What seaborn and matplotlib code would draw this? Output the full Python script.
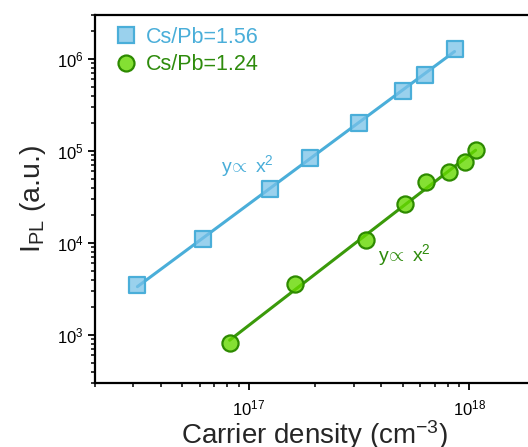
import numpy as np
import pandas as pd
import seaborn as sns
import matplotlib
matplotlib.use("Agg")
import matplotlib.pyplot as plt
from matplotlib.lines import Line2D

# Carrier density (cm^-3) and PL intensity (a.u.) for the two compositions
density_156 = [3.13e16, 6.24e16, 1.25e17, 1.89e17, 3.18e17, 5.02e17, 6.28e17, 8.59e17]
ipl_156 = [3.47e3, 1.10e4, 3.90e4, 8.35e4, 2.01e5, 4.45e5, 6.73e5, 1.29e6]

density_124 = [8.2e16, 1.63e17, 3.39e17, 5.12e17, 6.4e17, 8.11e17, 9.55e17, 1.07e18]
ipl_124 = [8.2e2, 3.53e3, 1.08e4, 2.62e4, 4.64e4, 5.85e4, 7.55e4, 1.03e5]

labels = ["Cs/Pb=1.56", "Cs/Pb=1.24"]
fit_label = r"$\mathregular{y}\!\propto\ \mathregular{x}^{2}$"

sns.set_theme(style="ticks")
plt.rcParams["font.family"] = ["Liberation Sans", "DejaVu Sans"]
plt.rcParams["mathtext.fontset"] = "custom"
plt.rcParams["mathtext.rm"] = "Liberation Sans"
plt.rcParams["mathtext.it"] = "Liberation Sans:italic"

blue_edge = "#4aaed9"
blue_face = (0.47, 0.76, 0.91, 0.75)
blue_text = "#4aaed9"
green_edge = "#2d8a00"
green_face = (0.40, 0.85, 0.0, 0.8)
green_line = "#3a9a0a"
green_text = "#2e8b0c"

fig = plt.figure(figsize=(5.28, 4.47), dpi=100)
ax = fig.add_axes([94.5 / 528, 1 - 383 / 447, (535.5 - 94.5) / 528, (383 - 15) / 447])

df_a = pd.DataFrame({"n": density_156, "I": ipl_156})
df_b = pd.DataFrame({"n": density_124, "I": ipl_124})


def fit_line(df):
    k, b = np.polyfit(np.log10(df["n"]), np.log10(df["I"]), 1)
    xs = np.array([df["n"].min(), df["n"].max()])
    return pd.DataFrame({"n": xs, "I": 10 ** (b + k * np.log10(xs))})


sns.lineplot(data=fit_line(df_a), x="n", y="I", color=blue_edge, lw=2.2, ax=ax, zorder=2)
sns.lineplot(data=fit_line(df_b), x="n", y="I", color=green_line, lw=2.2, ax=ax, zorder=2)

sns.scatterplot(data=df_a, x="n", y="I", marker="s", s=120, color=blue_face,
                edgecolor=blue_edge, linewidth=1.6, ax=ax, zorder=3)
sns.scatterplot(data=df_b, x="n", y="I", marker="o", s=135, color=green_face,
                edgecolor=green_edge, linewidth=1.6, ax=ax, zorder=3)

ax.set_xscale("log")
ax.set_yscale("log")
ax.set_xlim(2e16, 2e18)
ax.set_ylim(3e2, 3e6)

for side in ["top", "right", "left", "bottom"]:
    ax.spines[side].set_linewidth(1.6)
    ax.spines[side].set_color("black")

ax.tick_params(which="major", direction="out", length=5, width=1.3, labelsize=12,
               colors="black", pad=3)
ax.tick_params(axis="x", which="major", pad=6)
ax.tick_params(which="minor", direction="out", length=3, width=1.1, colors="black")
ax.tick_params(top=False, right=False, which="both")

ax.set_xlabel("Carrier density (cm$^{-3}$)", fontsize=20, labelpad=0)
ax.set_ylabel(r"I$_{\mathregular{PL}}$ (a.u.)", fontsize=20.5, labelpad=6)

handles = [
    Line2D([], [], marker="s", ls="none", markersize=11, markerfacecolor=blue_face,
           markeredgecolor=blue_edge, markeredgewidth=1.6),
    Line2D([], [], marker="o", ls="none", markersize=11.5, markerfacecolor=green_face,
           markeredgecolor=green_edge, markeredgewidth=1.6),
]
leg = ax.legend(handles, labels, loc="upper left", bbox_to_anchor=(0.012, 1.009),
                frameon=False, fontsize=15.5, handlelength=1.0, handletextpad=0.45,
                labelspacing=0.3, borderaxespad=0.3)
for txt, c in zip(leg.get_texts(), [blue_text, green_text]):
    txt.set_color(c)

ax.text(7.5e16, 5.9e4, fit_label, color=blue_text, fontsize=14)
ax.text(3.85e17, 6.4e3, fit_label, color=green_text, fontsize=14)

fig.savefig("out.png", dpi=100)
